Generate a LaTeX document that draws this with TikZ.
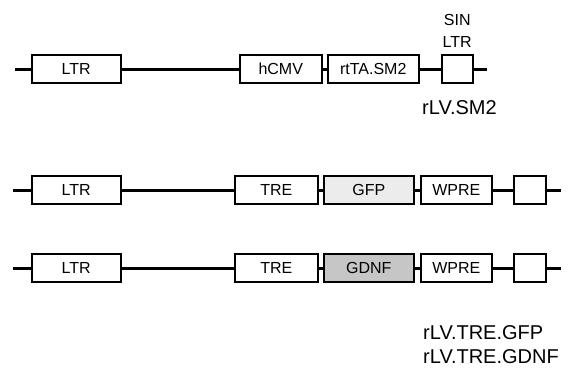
\documentclass[tikz,border=0pt]{standalone}
\usepackage{fontspec}
\setmainfont{Liberation Sans}
\usetikzlibrary{positioning}
\tikzset{
  seg/.style={draw,line width=1.5pt,fill=#1,minimum height=28pt,inner sep=0pt,anchor=west,font=\fontsize{16}{18}\selectfont},
  seg/.default={white},
  bb/.style={line width=3pt},
  lbl/.style={font=\fontsize{20}{24}\selectfont,anchor=west,align=left,inner sep=0pt},
}
\begin{document}
\begin{tikzpicture}[x=1pt,y=-1pt]
 \useasboundingbox (0,0) rectangle (572,375);
 % rLV.SM2
 \coordinate (s0) at (15,69);
 \coordinate (s1) at (487,69);
 \node[seg,minimum width=89pt] (sltr) at (31,69) {LTR};
 \node[seg,minimum width=82pt] (scmv) at (239,69) {hCMV};
 \node[seg,minimum width=91pt] (srtta) at (327,69) {rtTA.SM2};
 \node[seg,minimum width=31pt] (ssin) at (441,69) {};
 \draw[bb] (s0)--(sltr.west) (sltr.east)--(scmv.west) (scmv.east)--(srtta.west)
   (srtta.east)--(ssin.west) (ssin.east)--(s1);
 \node[font=\fontsize{16}{22}\selectfont,align=center,inner sep=0pt,above=7pt of ssin] (sinlbl) {SIN\\LTR};
 \node[lbl] (namesm) at (422,108) {rLV.SM2};
 % rLV.TRE.GFP / rLV.TRE.GDNF
 \foreach \r/\y/\gene/\col in {g/190/GFP/gray!15,d/268/GDNF/gray!45}{
   \coordinate (a\r) at (13,\y);
   \coordinate (b\r) at (561,\y);
   \node[seg,minimum width=89pt] (ltr\r) at (31,\y) {LTR};
   \node[seg,minimum width=83pt] (tre\r) at (234,\y) {TRE};
   \node[seg=\col,minimum width=90pt] (gene\r) at (323,\y) {\gene};
   \node[seg,minimum width=71pt] (wpre\r) at (420,\y) {WPRE};
   \node[seg,minimum width=32pt] (sin\r) at (513,\y) {};
   \draw[bb] (a\r)--(ltr\r.west) (ltr\r.east)--(tre\r.west) (tre\r.east)--(gene\r.west)
     (gene\r.east)--(wpre\r.west) (wpre\r.east)--(sin\r.west) (sin\r.east)--(b\r);
 }
 \node[lbl] (names) at (423,345) {rLV.TRE.GFP\\rLV.TRE.GDNF};
\end{tikzpicture}
\end{document}
